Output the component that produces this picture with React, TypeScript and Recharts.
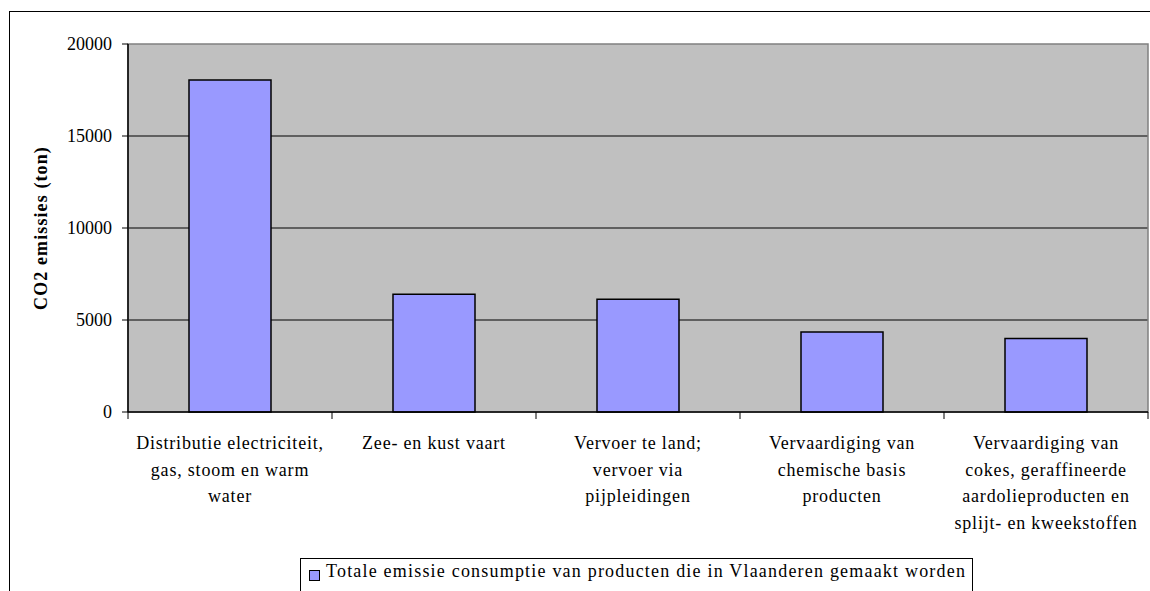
import React from 'react';
import { BarChart, Bar, XAxis, YAxis, CartesianGrid, Legend, ReferenceArea } from 'recharts';

const categories = [
  'Distributie electriciteit,\ngas, stoom en warm\nwater',
  'Zee- en kust vaart',
  'Vervoer te land;\nvervoer via\npijpleidingen',
  'Vervaardiging van\nchemische basis\nproducten',
  'Vervaardiging van\ncokes, geraffineerde\naardolieproducten en\nsplijt- en kweekstoffen',
];
const emissions = [18050, 6400, 6130, 4350, 4000];
const yTicks = [0, 5000, 10000, 15000, 20000];
const seriesName = 'Totale emissie consumptie van producten die in Vlaanderen gemaakt worden';

const data = categories.map((c, i) => ({ category: c, value: emissions[i] }));

const FONT = '"Liberation Serif", "Times New Roman", serif';

function CategoryTick(props: any) {
  const { x, y, payload, index } = props;
  const half = payload && payload.offset ? payload.offset : 102;
  const lines = String(payload.value).split('\n');
  return (
    <g>
      <line x1={x - half} y1={y} x2={x - half} y2={y + 7} stroke="#000" />
      {index === categories.length - 1 && (
        <line x1={x + half} y1={y} x2={x + half} y2={y + 7} stroke="#000" />
      )}
      <text
        x={x}
        y={y}
        textAnchor="middle"
        fill="#000"
        style={{ fontFamily: FONT, fontSize: 18, letterSpacing: 0.8 }}
      >
        {lines.map((l, i) => (
          <tspan key={i} x={x} dy={i === 0 ? 37 : 26.5}>{l}</tspan>
        ))}
      </text>
    </g>
  );
}

function ValueTick(props: any) {
  const { x, y, payload } = props;
  return (
    <text x={x} y={y} dy={6} textAnchor="end" fill="#000" style={{ fontFamily: FONT, fontSize: 18 }}>
      {payload.value}
    </text>
  );
}

function LegendBox(props: any) {
  const item = props.payload && props.payload[0];
  return (
    <div
      style={{
        border: '1px solid #000',
        background: '#fff',
        height: 40,
        boxSizing: 'border-box',
        paddingLeft: 8,
        paddingTop: 2,
        fontFamily: FONT,
        fontSize: 18,
        letterSpacing: 1.2,
        color: '#000',
        whiteSpace: 'nowrap',
        display: 'flex',
        alignItems: 'flex-start',
      }}
    >
      <span
        style={{
          display: 'inline-block',
          width: 9,
          height: 9,
          background: item ? item.color : '#9999FF',
          border: '1px solid #000',
          marginTop: 9,
          marginRight: 6,
        }}
      />
      <span>{item ? item.value : seriesName}</span>
    </div>
  );
}

export default function App() {
  return (
    <div style={{ position: 'absolute', left: 0, top: 0, width: 1150, height: 591, overflow: 'hidden', background: '#fff' }}>
      <div
        style={{
          position: 'absolute',
          left: 9,
          top: 11,
          width: 2000,
          height: 2000,
          borderLeft: '1.5px solid #000',
          borderTop: '1.5px solid #000',
        }}
      />
      <div style={{ position: 'absolute', left: 0, top: 0 }}>
        <BarChart
          width={1150}
          height={591}
          data={data}
          margin={{ top: 44, right: 2, bottom: 0, left: 0 }}
          barCategoryGap="30%"
        >
          <CartesianGrid
            vertical={false}
            fill="#C0C0C0"
            stroke="#000"
            horizontalValues={[5000, 10000, 15000]}
          />
          <ReferenceArea y1={0} y2={20000} fill="none" stroke="#808080" strokeWidth={1.5} />
          <XAxis
            dataKey="category"
            interval={0}
            axisLine={{ stroke: '#000', strokeWidth: 1.5 }}
            tickLine={false}
            tickSize={0}
            tickMargin={0}
            tick={<CategoryTick />}
            height={139}
          />
          <YAxis
            domain={[0, 20000]}
            ticks={yTicks}
            width={128}
            axisLine={{ stroke: '#000', strokeWidth: 1.5 }}
            tickLine={{ stroke: '#000' }}
            tickSize={6}
            tickMargin={10}
            tick={<ValueTick />}
            label={{
              value: 'CO2 emissies (ton)',
              angle: -90,
              position: 'insideLeft',
              offset: 0,
              dx: 41,
              style: { fontFamily: FONT, fontSize: 18, letterSpacing: 1.1, fontWeight: 'bold', fill: '#000', textAnchor: 'middle' },
            }}
          />
          <Bar
            dataKey="value"
            name={seriesName}
            fill="#9999FF"
            stroke="#000"
            strokeWidth={1.5}
            barSize={82}
            isAnimationActive={false}
          />
          <Legend
            verticalAlign="bottom"
            content={<LegendBox />}
            wrapperStyle={{ position: 'absolute', left: 300, top: 558, width: 673, bottom: 'auto' }}
          />
        </BarChart>
      </div>
    </div>
  );
}
